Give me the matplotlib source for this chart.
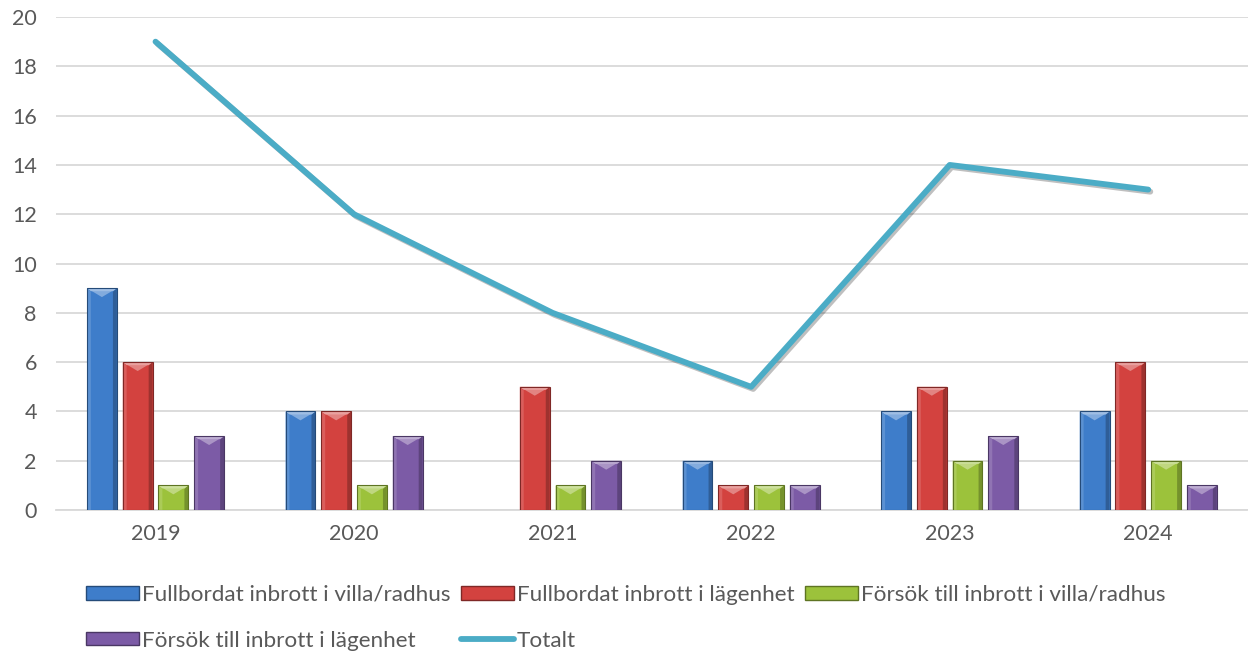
import numpy as np
import matplotlib
matplotlib.use("Agg")
import matplotlib.pyplot as plt
from matplotlib.patches import Polygon, Patch
from matplotlib.lines import Line2D
from matplotlib.colors import to_rgb
import matplotlib.patheffects as pe

plt.rcParams['font.family'] = ['Lato', 'DejaVu Sans']

# Data
years = ['2019', '2020', '2021', '2022', '2023', '2024']
villa = [9, 4, 0, 2, 4, 4]
lagenhet = [6, 4, 5, 1, 5, 6]
forsok_villa = [1, 1, 1, 1, 2, 2]
forsok_lagenhet = [3, 3, 2, 1, 3, 1]
totalt = [19, 12, 8, 5, 14, 13]

series = [
    ('Fullbordat inbrott i villa/radhus', villa, '#3e7dca'),
    ('Fullbordat inbrott i lägenhet', lagenhet, '#d3423f'),
    ('Försök till inbrott i villa/radhus', forsok_villa, '#9cc23b'),
    ('Försök till inbrott i lägenhet', forsok_lagenhet, '#7c5ba6'),
]
line_color = '#4bacc6'


def shade(c, f):
    r = np.array(to_rgb(c))
    if f > 0:
        return tuple(r + (1 - r) * f)
    return tuple(r * (1 + f))


fig = plt.figure(figsize=(12.5, 6.54), dpi=100)
ax = fig.add_axes([0.045, 0.22, 0.953, 0.754])

x = np.arange(len(years))
width = 0.15
step = 0.18
ymax = 20
# bevel sizes (data units)
bx = width * 0.13
by_top = 0.36
by_side = 0.12

for i, (name, vals, col) in enumerate(series):
    offs = (i - 1.5) * step
    bars = ax.bar(x + offs, vals, width, color=col, edgecolor='none',
                  linewidth=0, zorder=3)
    for b in bars:
        h = b.get_height()
        if h <= 0:
            continue
        x0 = b.get_x()
        x1 = x0 + b.get_width()
        xm = (x0 + x1) / 2
        # left strip lighter
        ax.add_patch(Polygon([(x0, 0), (x0, h), (x0 + bx, h - by_top * 0.4), (x0 + bx, 0)],
                             closed=True, facecolor=shade(col, 0.15), edgecolor='none', zorder=4))
        # right strip darker
        ax.add_patch(Polygon([(x1, 0), (x1, h), (x1 - bx, h - by_top * 0.4), (x1 - bx, 0)],
                             closed=True, facecolor=shade(col, -0.25), edgecolor='none', zorder=4))
        # top bevel
        ax.add_patch(Polygon([(x0, h), (x1, h), (xm, h - by_top)],
                             closed=True, facecolor=shade(col, 0.35), edgecolor='none', zorder=4))
        ax.add_patch(Polygon([(x0, h), (x1, h), (x1 - bx, h - by_side), (x0 + bx, h - by_side)],
                             closed=True, facecolor=shade(col, 0.5), edgecolor='none', zorder=4))
        # outline on top
        ax.add_patch(Polygon([(x0, 0), (x0, h), (x1, h), (x1, 0)], closed=True,
                             facecolor='none', edgecolor=shade(col, -0.4), linewidth=0.8, zorder=5))

ax.plot(x, totalt, color=line_color, linewidth=4.2, solid_capstyle='round', zorder=6,
        path_effects=[pe.SimpleLineShadow(offset=(1.5, -1.5), alpha=0.25), pe.Normal()])

ax.set_xlim(-0.5, len(years) - 0.5)
ax.set_ylim(0, ymax)
ax.set_yticks(np.arange(0, 21, 2))
ax.set_xticks(x)
ax.set_xticklabels(years)
ax.yaxis.grid(True, color='#d9d9d9', linewidth=1.3, zorder=0)
ax.set_axisbelow(True)
for s in ['top', 'right', 'left']:
    ax.spines[s].set_visible(False)
ax.spines['bottom'].set_color('#d9d9d9')
ax.spines['bottom'].set_linewidth(1.3)
ax.tick_params(axis='both', length=0, labelsize=15.5, colors='#595959', pad=10)
ax.tick_params(axis='y', pad=14)

handles = [Patch(facecolor=c, edgecolor=shade(c, -0.4), linewidth=1.0) for _, _, c in series]
handles.append(Line2D([0], [0], color=line_color, linewidth=4.2, solid_capstyle='round'))
labels = [s[0] for s in series] + ['Totalt']
order = [0, 3, 1, 4, 2]
leg = fig.legend([handles[k] for k in order], [labels[k] for k in order],
                 loc='lower left', bbox_to_anchor=(0.066, 0.0), ncol=3, frameon=False,
                 fontsize=16.2, handlelength=2.35, handleheight=0.55, handletextpad=0.15,
                 columnspacing=0.45, labelspacing=1.15, borderpad=0.15, borderaxespad=0.0)
for t in leg.get_texts():
    t.set_color('#595959')

fig.savefig('out.png', dpi=100)
